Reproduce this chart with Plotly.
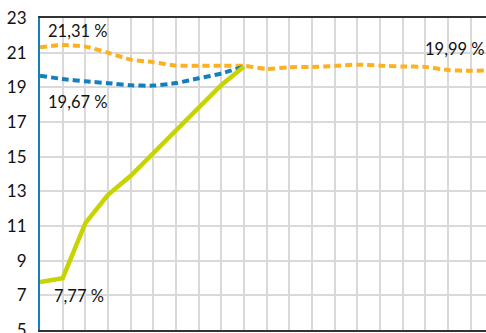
import plotly.graph_objects as go

x_orange = list(range(21))
orange = [21.31, 21.44, 21.35, 21.0, 20.6, 20.45, 20.25, 20.25, 20.25, 20.24,
          20.06, 20.16, 20.18, 20.23, 20.31, 20.25, 20.2, 20.18, 20.0, 19.95, 19.99]
x_short = list(range(10))
blue = [19.67, 19.48, 19.35, 19.24, 19.12, 19.1, 19.25, 19.52, 19.8, 20.2]
green = [7.77, 7.99, 11.17, 12.8, 13.9, 15.2, 16.54, 17.89, 19.14, 20.2]
y_ticks = [5, 7, 9, 11, 13, 15, 17, 19, 21, 23]

FONT = "Lato"
fig = go.Figure()
fig.add_trace(go.Scatter(x=x_orange, y=orange, mode="lines",
                         line=dict(color="#FDB022", width=4, dash="7px,4px", shape="spline", smoothing=0.6)))
fig.add_trace(go.Scatter(x=x_short, y=blue, mode="lines",
                         line=dict(color="#1380BD", width=4, dash="7px,4px", shape="spline", smoothing=0.6)))
fig.add_trace(go.Scatter(x=x_short, y=green, mode="lines",
                         line=dict(color="#C8D400", width=4.5)))

ann = [
    dict(x=0, y=orange[0], text="21,31 %", xshift=6, yshift=16, xanchor="left"),
    dict(x=0, y=blue[0], text="19,67 %", xshift=6, yshift=-26, xanchor="left"),
    dict(x=0, y=green[0], text="7,77 %", xshift=12, yshift=-14, xanchor="left"),
    dict(x=19.67, y=orange[-1], text="19,99 %", xshift=0, yshift=21, xanchor="right"),
]
for a in ann:
    a.update(xref="x", yref="y", showarrow=False, font=dict(family=FONT, size=16.5, color="#111"))

fig.update_layout(
    width=486, height=333,
    margin=dict(l=40, r=0, t=18, b=3),
    paper_bgcolor="white", plot_bgcolor="white",
    showlegend=False,
    annotations=ann,
    xaxis=dict(range=[0, 19.67], dtick=1, tick0=0, showticklabels=False,
               showgrid=True, gridcolor="#d9d9d9", gridwidth=2,
               showline=True, linecolor="#333", linewidth=2, mirror=True,
               zeroline=False, ticks="", automargin=False),
    yaxis=dict(range=[5, 23], tickvals=y_ticks, ticktext=[str(v) for v in y_ticks],
               showgrid=True, gridcolor="#d9d9d9", gridwidth=2,
               showline=True, linecolor="#1380BD", linewidth=2,
               zeroline=False, ticks="", ticklabelstandoff=8,
               ticklabeloverflow="allow", automargin=False,
               tickfont=dict(family=FONT, size=17, color="#111")),
)
fig.write_html("out.html")
